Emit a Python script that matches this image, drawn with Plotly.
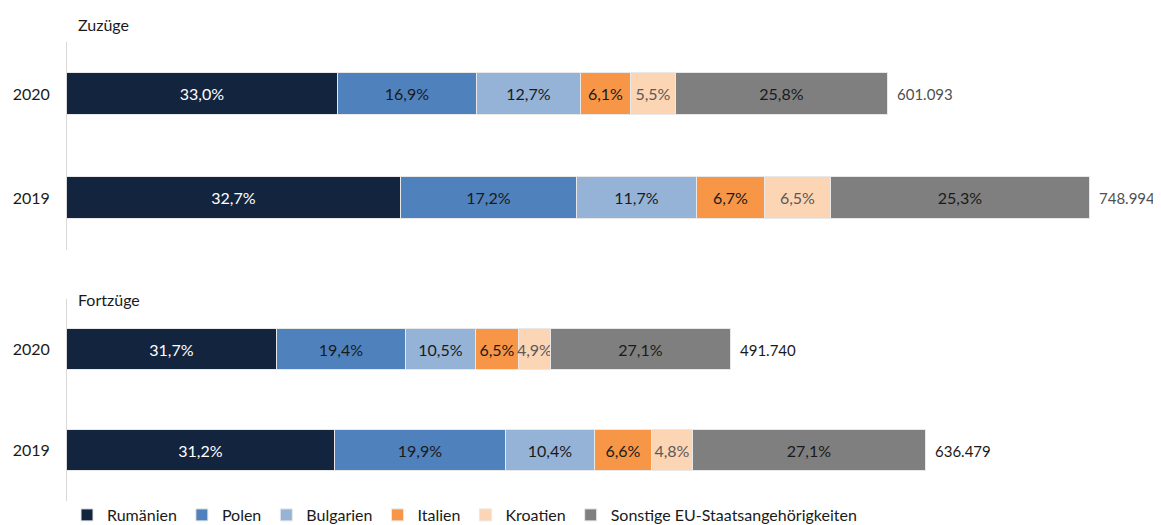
import plotly.graph_objects as go

years = ["2019", "2020"]
series = ["Rumänien", "Polen", "Bulgarien", "Italien", "Kroatien", "Sonstige EU-Staatsangehörigkeiten"]
colors = ["#13243F", "#4F81BD", "#95B3D7", "#F79646", "#FCD5B5", "#7F7F7F"]
text_colors = ["#FFFFFF", "#1a1a1a", "#1a1a1a", "#1a1a1a", "#595959", "#1a1a1a"]

# percentages per series, order: [2019, 2020]
zuzuege_pct = {
    "Rumänien": [32.7, 33.0],
    "Polen": [17.2, 16.9],
    "Bulgarien": [11.7, 12.7],
    "Italien": [6.7, 6.1],
    "Kroatien": [6.5, 5.5],
    "Sonstige EU-Staatsangehörigkeiten": [25.3, 25.8],
}
fortzuege_pct = {
    "Rumänien": [31.2, 31.7],
    "Polen": [19.9, 19.4],
    "Bulgarien": [10.4, 10.5],
    "Italien": [6.6, 6.5],
    "Kroatien": [4.8, 4.9],
    "Sonstige EU-Staatsangehörigkeiten": [27.1, 27.1],
}
zuzuege_total = [748994, 601093]
fortzuege_total = [636479, 491740]

FONT = "Lato"
FS = 16
W, H = 1153, 517  # page body has an 8px margin

def fmt_pct(p):
    return f"{p:.1f}".replace(".", ",") + "%"

def fmt_total(t):
    return f"{t:,}".replace(",", ".")

fig = go.Figure()

panels = [
    (zuzuege_pct, zuzuege_total, "x", "y", True, "#505050"),
    (fortzuege_pct, fortzuege_total, "x2", "y2", False, "#1a1a1a"),
]

for pct, totals, xa, ya, showleg, tot_col in panels:
    sums = [sum(pct[s][i] for s in series) for i in range(len(years))]
    for s, c, tc in zip(series, colors, text_colors):
        vals = [pct[s][i] / sums[i] * totals[i] for i in range(len(years))]
        fig.add_trace(go.Bar(
            y=years, x=vals, orientation="h", name=s,
            marker=dict(color=c, line=dict(color="#E8E8E8", width=1)),
            text=[fmt_pct(p) for p in pct[s]],
            textposition="inside", insidetextanchor="middle", textangle=0,
            textfont=dict(color=tc, size=FS, family=FONT),
            width=0.4, xaxis=xa, yaxis=ya,
            legendgroup=s, showlegend=showleg, hoverinfo="skip",
        ))
    for i in range(len(years)):
        fig.add_annotation(
            x=totals[i], y=i, xref=xa, yref=ya, text=fmt_total(totals[i]),
            showarrow=False, xanchor="left", xshift=7,
            font=dict(size=15, family=FONT, color=tot_col),
        )

fig.add_annotation(x=68 / W, y=1 - 16 / H, xref="paper", yref="paper", text="Zuzüge",
                   showarrow=False, xanchor="left", yanchor="middle",
                   font=dict(size=FS, family=FONT, color="#1a1a1a"))
fig.add_annotation(x=68 / W, y=1 - 291 / H, xref="paper", yref="paper", text="Fortzüge",
                   showarrow=False, xanchor="left", yanchor="middle",
                   font=dict(size=FS, family=FONT, color="#1a1a1a"))

xdom = [59 / W, 1.0]
common_x = dict(domain=xdom, showgrid=False, zeroline=False, showticklabels=False, showline=False,
                automargin=False)
common_y = dict(showgrid=False, zeroline=False, showline=True, linecolor="#D9D9D9", linewidth=1,
                ticks="outside", ticklen=13, tickcolor="rgba(0,0,0,0)", automargin=False,
                tickfont=dict(size=FS, family=FONT, color="#1a1a1a"),
                categoryorder="array", categoryarray=years, range=[-0.5, 1.5])

fig.update_layout(
    width=W, height=H,
    margin=dict(l=0, r=0, t=0, b=0, autoexpand=False),
    paper_bgcolor="white", plot_bgcolor="white",
    barmode="stack", bargap=0,
    uniformtext=dict(minsize=FS, mode="show"),
    xaxis=dict(**common_x, range=[0, 1094 / 0.0013658], anchor="y"),
    yaxis=dict(**common_y, domain=[(H - 242) / H, (H - 34) / H], anchor="x"),
    xaxis2=dict(**common_x, range=[0, 1094 / 0.00135], anchor="y2"),
    yaxis2=dict(**common_y, domain=[(H - 493) / H, (H - 291) / H], anchor="x2"),
    legend=dict(orientation="h", x=59 / W, y=-7 / H, xanchor="left", yanchor="bottom",
                font=dict(size=FS, family=FONT, color="#1a1a1a"),
                itemwidth=30, tracegroupgap=0, bgcolor="rgba(0,0,0,0)"),
    font=dict(family=FONT),
)

fig.write_html("out.html")
